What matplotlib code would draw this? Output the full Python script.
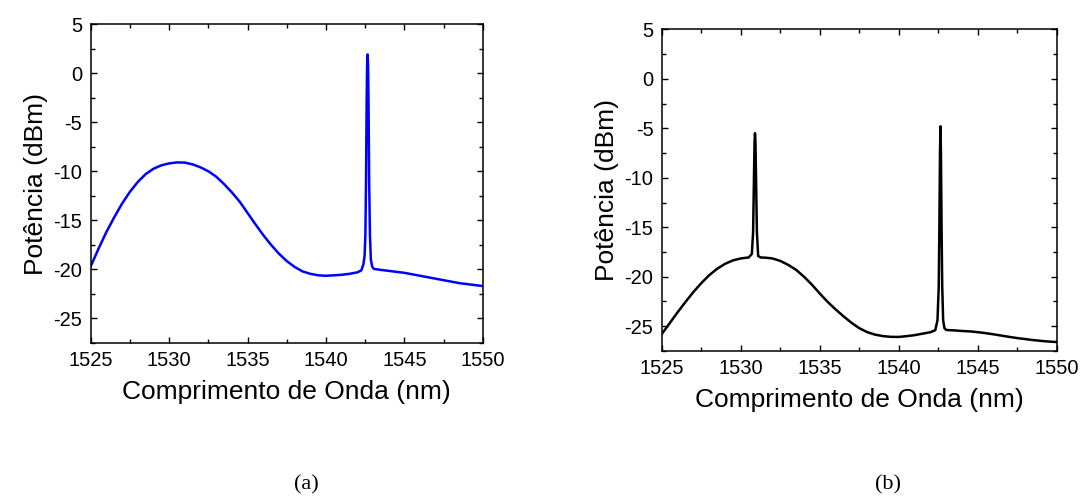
import matplotlib
matplotlib.use("Agg")
import matplotlib.pyplot as plt
from matplotlib.ticker import MultipleLocator

plt.rcParams['font.family'] = ['Liberation Sans', 'DejaVu Sans']
plt.rcParams['axes.unicode_minus'] = False

# (a) ASE spectrum with laser line at 1542.6 nm
wl_a = [1525.0, 1525.5, 1526.0, 1526.5, 1527.0, 1527.5, 1528.0, 1528.5, 1529.0,
        1529.5, 1530.0, 1530.5, 1531.0, 1531.5, 1532.0, 1532.5, 1533.0, 1533.5,
        1534.0, 1534.5, 1535.0, 1535.5, 1536.0, 1536.5, 1537.0, 1537.5, 1538.0,
        1538.5, 1539.0, 1539.5, 1540.0, 1540.5, 1541.0, 1541.5, 1542.0,
        1542.25, 1542.38, 1542.46, 1542.51, 1542.55, 1542.59,
        1542.62, 1542.65, 1542.68, 1542.71, 1542.75, 1542.80, 1542.86, 1542.94,
        1543.05, 1543.5, 1544.0, 1544.5, 1545.0, 1545.5, 1546.0, 1546.5, 1547.0,
        1547.5, 1548.0, 1548.5, 1549.0, 1549.5, 1550.0]
pw_a = [-19.7, -17.9, -16.2, -14.7, -13.3, -12.1, -11.1, -10.3, -9.75,
        -9.4, -9.2, -9.1, -9.12, -9.3, -9.6, -10.0, -10.55, -11.3,
        -12.15, -13.1, -14.25, -15.4, -16.5, -17.5, -18.4, -19.15, -19.75,
        -20.2, -20.45, -20.6, -20.65, -20.6, -20.55, -20.45, -20.3,
        -20.1, -19.5, -18.6, -16.5, -11.0, -3.0,
        0.9, 1.9, 0.9, -3.0, -11.0, -16.5, -19.0, -19.7,
        -19.95, -20.05, -20.15, -20.25, -20.35, -20.5, -20.65, -20.8, -20.95,
        -21.1, -21.25, -21.4, -21.5, -21.6, -21.7]

# (b) two-line spectrum (1530.9 nm and 1542.6 nm)
wl_b = [1525.0, 1525.5, 1526.0, 1526.5, 1527.0, 1527.5, 1528.0, 1528.5, 1529.0,
        1529.5, 1530.0, 1530.5, 1530.70, 1530.78, 1530.83,
        1530.87, 1530.90, 1530.93, 1530.97, 1531.02, 1531.10, 1531.25, 1531.6,
        1532.0, 1532.5, 1533.0, 1533.5, 1534.0, 1534.5, 1535.0, 1535.5, 1536.0,
        1536.5, 1537.0, 1537.5, 1538.0, 1538.5, 1539.0, 1539.5, 1540.0, 1540.5,
        1541.0, 1541.5, 1542.0, 1542.3, 1542.44, 1542.52, 1542.56, 1542.60, 1542.63,
        1542.66, 1542.70, 1542.74, 1542.80, 1542.88, 1543.0, 1543.5, 1544.0,
        1544.5, 1545.0, 1545.5, 1546.0, 1546.5, 1547.0, 1547.5, 1548.0, 1548.5,
        1549.0, 1549.5, 1550.0]
pw_b = [-25.8, -24.7, -23.6, -22.55, -21.55, -20.65, -19.85, -19.2, -18.7,
        -18.35, -18.15, -18.05, -17.7, -15.5, -10.5,
        -6.5, -5.5, -6.5, -10.5, -15.5, -17.9, -18.05, -18.08,
        -18.15, -18.4, -18.8, -19.3, -20.0, -20.8, -21.7, -22.55, -23.3,
        -24.0, -24.65, -25.2, -25.6, -25.85, -26.0, -26.07, -26.08, -26.0,
        -25.9, -25.75, -25.6, -25.4, -24.4, -21.0, -15.0, -7.5, -4.8,
        -7.5, -15.0, -21.0, -24.4, -25.2, -25.38, -25.42, -25.48,
        -25.52, -25.6, -25.7, -25.82, -25.95, -26.08, -26.2, -26.3, -26.4,
        -26.48, -26.55, -26.6]

x_ticks = [1525, 1530, 1535, 1540, 1545, 1550]
y_ticks = [5, 0, -5, -10, -15, -20, -25]

fig = plt.figure(figsize=(10.83, 4.98), dpi=100)
ax_a = fig.add_axes([0.0837, 0.3112, 0.3622, 0.6406])
ax_b = fig.add_axes([0.611, 0.2952, 0.365, 0.646])

for ax, wl, pw, color in [(ax_a, wl_a, pw_a, '#0000ff'), (ax_b, wl_b, pw_b, 'black')]:
    ax.plot(wl, pw, color=color, lw=1.8, solid_joinstyle='round')
    ax.set_xlim(1525, 1550)
    ax.set_ylim(-27.5, 5)
    ax.set_xticks(x_ticks)
    ax.set_yticks(y_ticks)
    ax.xaxis.set_minor_locator(MultipleLocator(2.5))
    ax.yaxis.set_minor_locator(MultipleLocator(2.5))
    ax.tick_params(which='both', direction='in', top=True, right=True,
                   width=1.0, labelsize=14.5, pad=6)
    ax.tick_params(which='major', length=4.5)
    ax.tick_params(which='minor', length=3)
    for s in ax.spines.values():
        s.set_linewidth(1.1)
    ax.set_xlabel('Comprimento de Onda (nm)', fontsize=19, labelpad=7)
    ax.set_ylabel('Potência (dBm)', fontsize=19, labelpad=4)

fig.text(0.2825, 0.027, '(a)', fontsize=16, family='Liberation Serif',
         ha='center', va='center')
fig.text(0.82, 0.027, '(b)', fontsize=16, family='Liberation Serif',
         ha='center', va='center')

fig.savefig('out.png', dpi=100)
